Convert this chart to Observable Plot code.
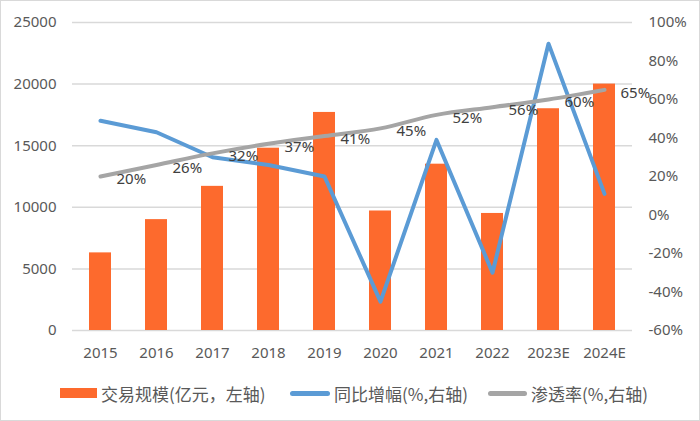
<!DOCTYPE html>
<html>
<head>
<meta charset="utf-8">
<script src="https://cdn.jsdelivr.net/npm/d3@7"></script>
<script src="https://cdn.jsdelivr.net/npm/@observablehq/plot@0.6"></script>
<style>
  html, body { margin: 0; padding: 0; background: #fff; }
  body { width: 700px; height: 421px; position: relative; overflow: hidden;
         font-family: 'Noto Sans', 'Noto Sans CJK SC', sans-serif; }
  #frame { position: absolute; left: 0; top: 0; width: 700px; height: 421px; box-sizing: border-box;
           border: 1.5px solid #d9d9d9; pointer-events: none; }
  #chart { position: absolute; left: 0; top: 0; }
  #legend { position: absolute; left: 0; top: 378px; width: 700px; height: 30px;
            font-family: 'Noto Sans CJK SC', 'Noto Sans', sans-serif; font-size: 17px; color: #595959; }
  .item { position: absolute; top: 0; height: 30px; display: flex; align-items: center; white-space: nowrap; }
  .sw { display: inline-block; margin-right: 4px; }
</style>
</head>
<body>
<div id="chart"></div>
<div id="legend"></div>
<div id="frame"></div>
<script>
// ---- data ----
const years = ["2015", "2016", "2017", "2018", "2019", "2020", "2021", "2022", "2023E", "2024E"];
const tradeScale = [6300, 9000, 11700, 14800, 17700, 9700, 13500, 9500, 18000, 20000]; // 交易规模(亿元)
const yoyGrowth = [49, 43, 30, 26, 20, -45, 39, -30, 89, 11];                         // 同比增幅(%)
const penetration = [20, 26, 32, 37, 41, 45, 52, 56, 60, 65];                         // 渗透率(%)
const leftTicks = [0, 5000, 10000, 15000, 20000, 25000];
const rightTicks = [-60, -40, -20, 0, 20, 40, 60, 80, 100];
const seriesNames = ["交易规模(亿元，左轴)", "同比增幅(%,右轴)", "渗透率(%,右轴)"];
const colors = ["#fd6a2d", "#5b9bd5", "#a5a5a5"];

// ---- map right axis (%) onto left axis scale ----
const leftDomain = [0, 25000];
const rightDomain = [-60, 100];
const toLeft = p => (p - rightDomain[0]) / (rightDomain[1] - rightDomain[0]) * (leftDomain[1] - leftDomain[0]) + leftDomain[0];
const fromLeft = v => (v - leftDomain[0]) / (leftDomain[1] - leftDomain[0]) * (rightDomain[1] - rightDomain[0]) + rightDomain[0];

const data = years.map((year, i) => ({year, scale: tradeScale[i], yoy: yoyGrowth[i], pen: penetration[i]}));

const chart = Plot.plot({
  width: 700,
  height: 370,
  marginTop: 22,
  marginBottom: 40,
  marginLeft: 72,
  marginRight: 68,
  style: {fontFamily: "'Noto Sans', 'Noto Sans CJK SC', sans-serif", fontSize: "15px", color: "#595959", background: "transparent"},
  x: {domain: years, paddingInner: 0.6, paddingOuter: 0.3, label: null},
  y: {domain: leftDomain, label: null},
  marks: [
    Plot.gridY(leftTicks, {stroke: "#d9d9d9", strokeOpacity: 1, strokeWidth: 1.5}),
    Plot.axisY({ticks: leftTicks, tickSize: 0, tickPadding: 16, label: null, tickFormat: d => String(d)}),
    Plot.axisY({anchor: "right", ticks: rightTicks.map(toLeft), tickSize: 0, tickPadding: 16, label: null,
                tickFormat: d => Math.round(fromLeft(d)) + "%"}),
    Plot.axisX({tickSize: 0, tickPadding: 17, label: null}),
    Plot.barY(data, {x: "year", y: "scale", fill: colors[0]}),
    Plot.lineY(data, {x: "year", y: d => toLeft(d.yoy), stroke: colors[1], strokeWidth: 4, strokeLinejoin: "round", strokeLinecap: "round"}),
    Plot.lineY(data, {x: "year", y: d => toLeft(d.pen), stroke: colors[2], strokeWidth: 4, strokeLinejoin: "round", strokeLinecap: "round", curve: "monotone-x"}),
    Plot.text(data, {x: "year", y: d => toLeft(d.pen), text: d => d.pen + "%", textAnchor: "start", dx: 16, dy: 3, fill: "#404040", fontSize: 15})
  ]
});
document.getElementById("chart").appendChild(chart);

// ---- legend ----
const legend = document.getElementById("legend");
const items = [
  {left: 60, sw: {w: 37, h: 10, r: 0}},
  {left: 290, sw: {w: 40, h: 5, r: 3}},
  {left: 488, sw: {w: 39, h: 5, r: 3}}
];
items.forEach((it, i) => {
  const div = document.createElement("div");
  div.className = "item";
  div.style.left = it.left + "px";
  const sw = document.createElement("span");
  sw.className = "sw";
  sw.style.width = it.sw.w + "px";
  sw.style.height = it.sw.h + "px";
  sw.style.borderRadius = it.sw.r + "px";
  sw.style.background = colors[i];
  const tx = document.createElement("span");
  tx.textContent = seriesNames[i];
  div.appendChild(sw);
  div.appendChild(tx);
  legend.appendChild(div);
});
</script>
</body>
</html>
